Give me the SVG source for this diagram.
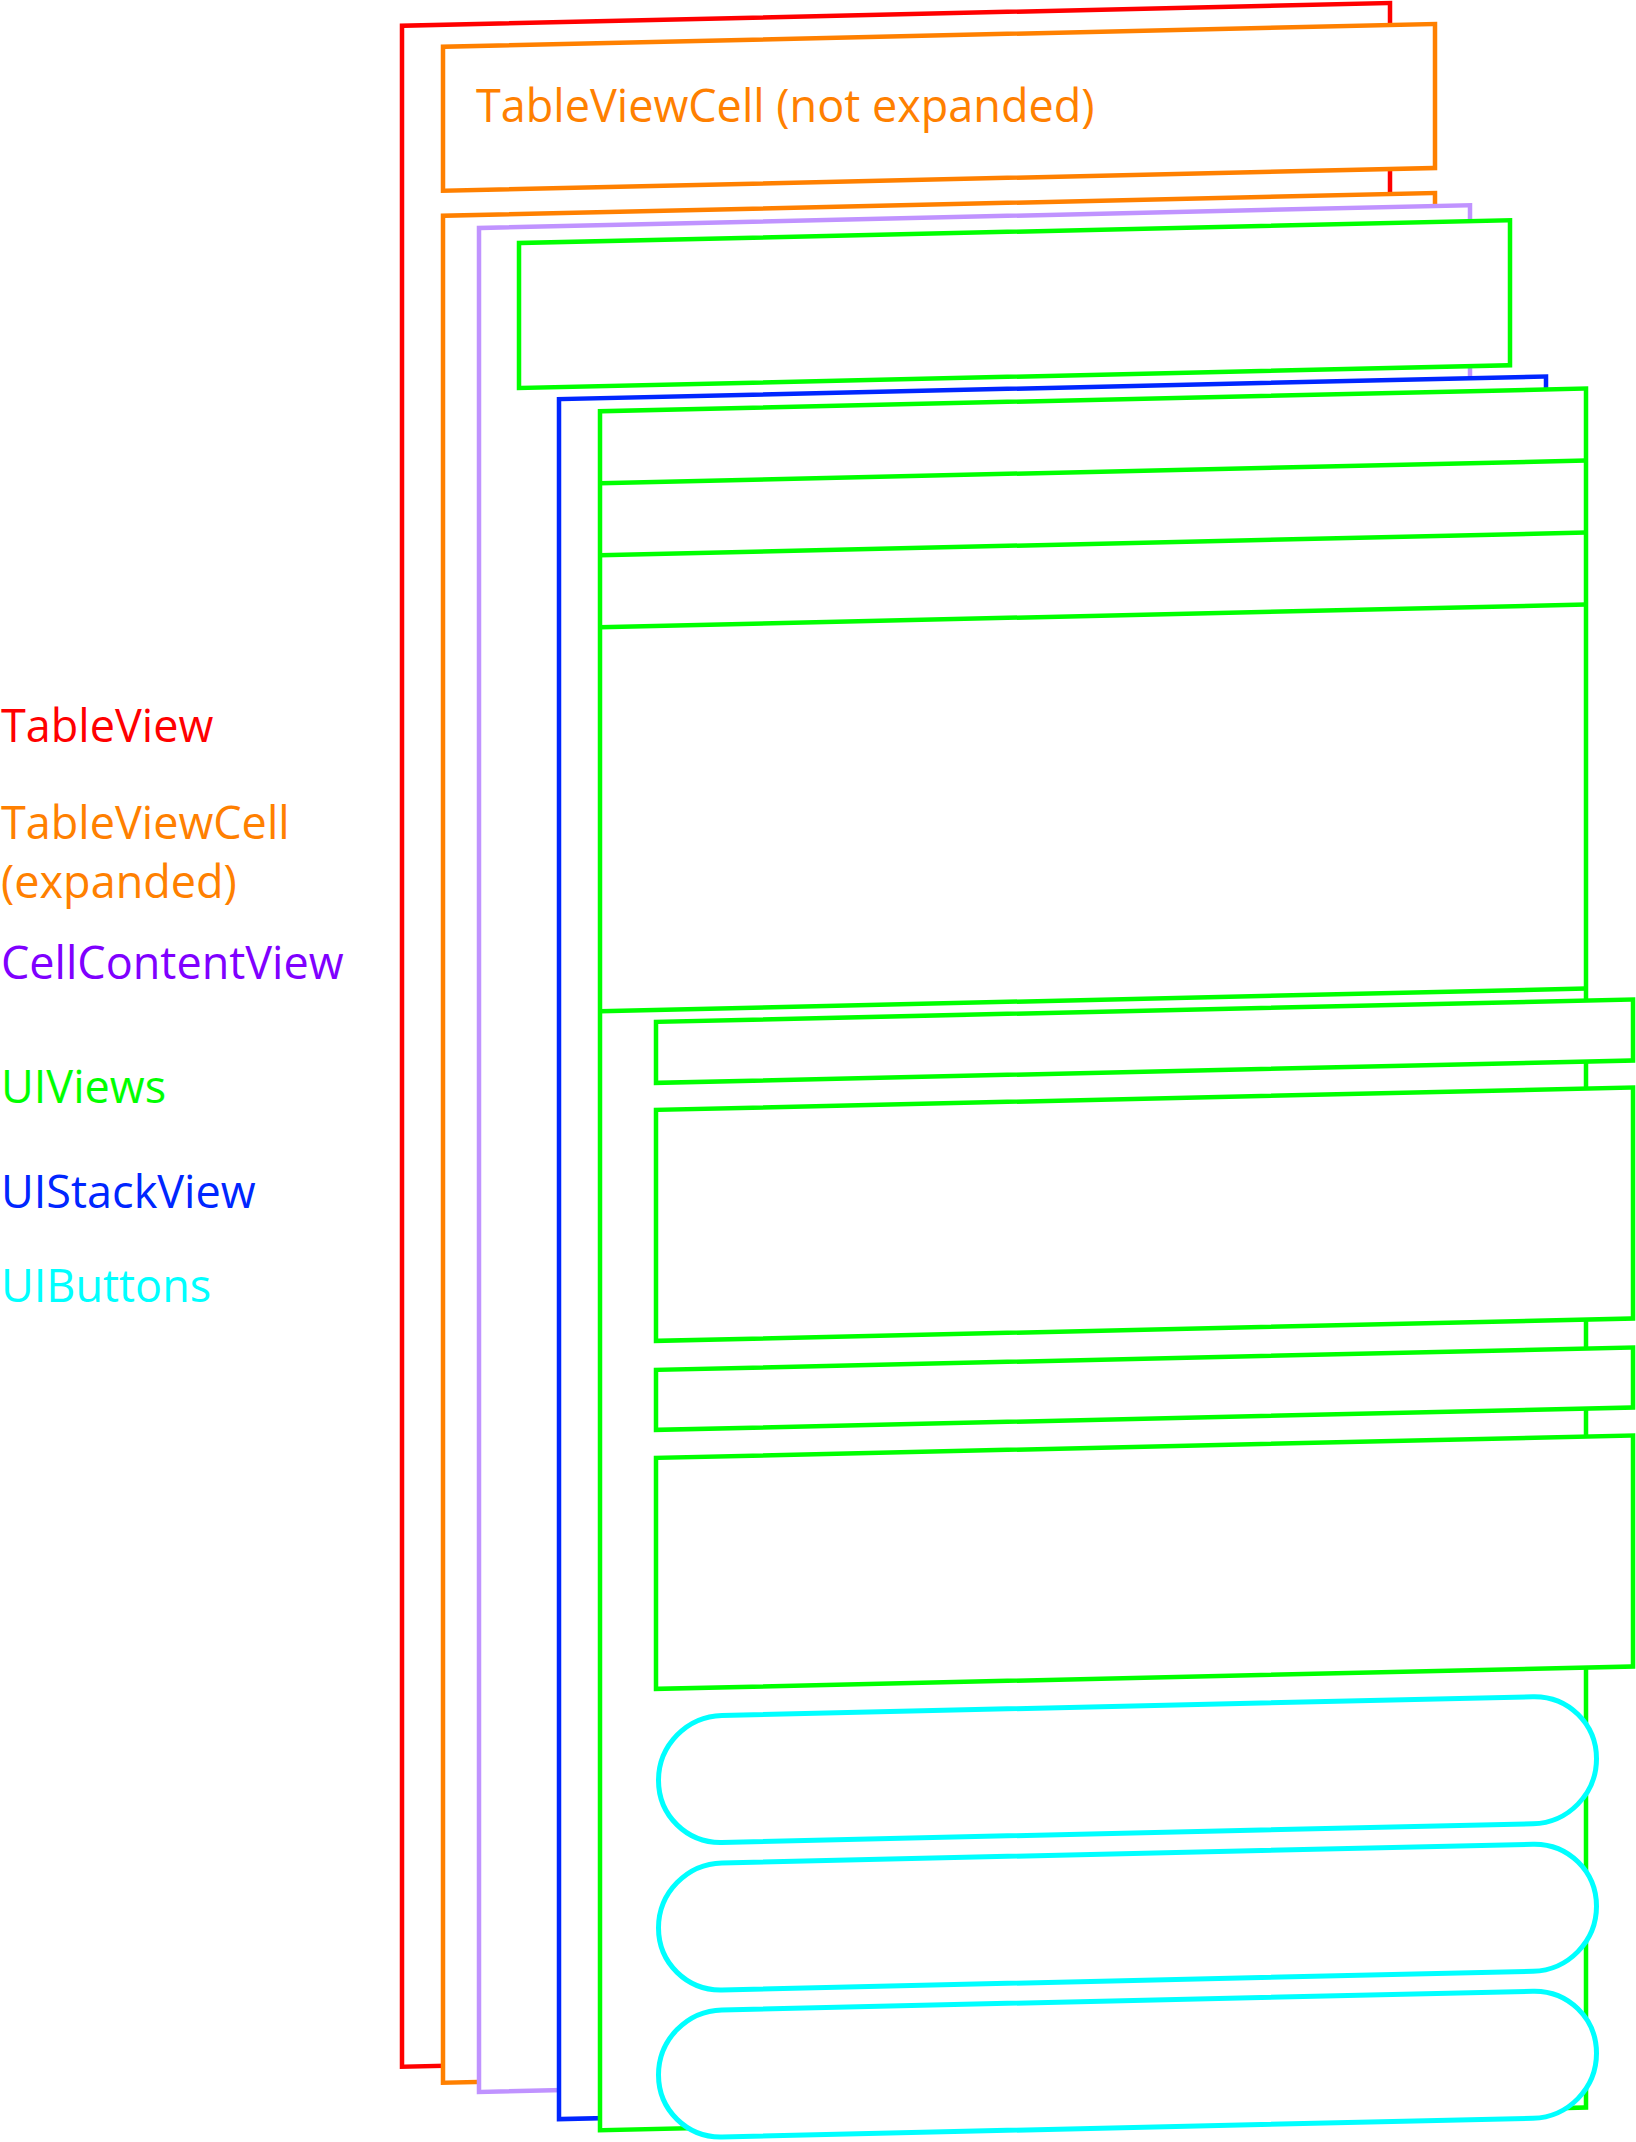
<svg xmlns="http://www.w3.org/2000/svg" width="1636" height="2142" viewBox="0 0 1636 2142">
<style>
  .box { fill: #ffffff; stroke-width: 4.5; }
  .red { stroke: #ff0000; }
  .orange { stroke: #ff8000; }
  .purple { stroke: #c093ff; }
  .green { stroke: #00ff00; }
  .blue { stroke: #0026ff; }
  .cyan { stroke: #00ffff; stroke-width: 5; }
  .div { stroke: #00ff00; stroke-width: 4.5; fill: none; }
  .lbl { font-family: "Open Sans", "Noto Sans", "Liberation Sans", sans-serif; font-size: 45px; }
</style>
<rect width="1636" height="2142" fill="#ffffff"/>

<g id="tableview">
  <rect class="box red" transform="matrix(1 -0.023 0 1 0 0)" x="402" y="35" width="988" height="2041"/>
</g>

<g id="cell-not-expanded">
  <rect class="box orange" transform="matrix(1 -0.023 0 1 0 0)" x="443" y="57" width="992" height="144"/>
  <text class="lbl" x="476" y="122" fill="#ff8000">TableViewCell (not expanded)</text>
</g>

<g id="cell-expanded">
  <rect class="box orange" transform="matrix(1 -0.023 0 1 0 0)" x="443" y="226" width="992" height="1867"/>
</g>

<g id="cell-content-view">
  <rect class="box purple" transform="matrix(1 -0.023 0 1 0 0)" x="479" y="239" width="991" height="1864"/>
</g>

<g id="uiview-top">
  <rect class="box green" transform="matrix(1 -0.023 0 1 0 0)" x="519" y="255" width="991" height="145"/>
</g>

<g id="uistackview">
  <rect class="box blue" transform="matrix(1 -0.023 0 1 0 0)" x="559" y="412" width="987" height="1720"/>
</g>

<g id="uiview-container" transform="matrix(1 -0.023 0 1 0 0)">
  <rect class="box green" x="600" y="425" width="986" height="1719"/>
  <line class="div" x1="600" y1="497" x2="1586" y2="497"/>
  <line class="div" x1="600" y1="569" x2="1586" y2="569" stroke-width="5.5"/>
  <line class="div" x1="600" y1="641" x2="1586" y2="641"/>
  <line class="div" x1="600" y1="1025" x2="1586" y2="1025"/>
</g>

<g id="uiview-a">
  <rect class="box green" transform="matrix(1 -0.023 0 1 0 0)" x="656" y="1037" width="977" height="61"/>
</g>
<g id="uiview-b">
  <rect class="box green" transform="matrix(1 -0.023 0 1 0 0)" x="656" y="1125" width="977" height="231"/>
</g>
<g id="uiview-c">
  <rect class="box green" transform="matrix(1 -0.023 0 1 0 0)" x="656" y="1385" width="977" height="60"/>
</g>
<g id="uiview-d">
  <rect class="box green" transform="matrix(1 -0.023 0 1 0 0)" x="656" y="1473" width="977" height="231"/>
</g>

<g id="button-1">
  <rect class="box cyan" transform="matrix(1 -0.023 0 1 0 0)" x="658.5" y="1732" width="938" height="127" rx="63.5" ry="63.5"/>
</g>
<g id="button-2">
  <rect class="box cyan" transform="matrix(1 -0.023 0 1 0 0)" x="658.5" y="1879.5" width="938" height="127" rx="63.5" ry="63.5"/>
</g>
<g id="button-3">
  <rect class="box cyan" transform="matrix(1 -0.023 0 1 0 0)" x="658.5" y="2026.5" width="938" height="127" rx="63.5" ry="63.5"/>
</g>

<g id="legend">
  <text class="lbl" x="1" y="742" fill="#ff0000">TableView</text>
  <text class="lbl" x="1" y="839" fill="#ff8000">TableViewCell</text>
  <text class="lbl" x="1" y="898" fill="#ff8000">(expanded)</text>
  <text class="lbl" x="1" y="979" fill="#7f00ff">CellContentView</text>
  <text class="lbl" x="1" y="1103" fill="#00ff00">UIViews</text>
  <text class="lbl" x="1" y="1208" fill="#0026ff">UIStackView</text>
  <text class="lbl" x="1" y="1302" fill="#00ffff">UIButtons</text>
</g>
</svg>
